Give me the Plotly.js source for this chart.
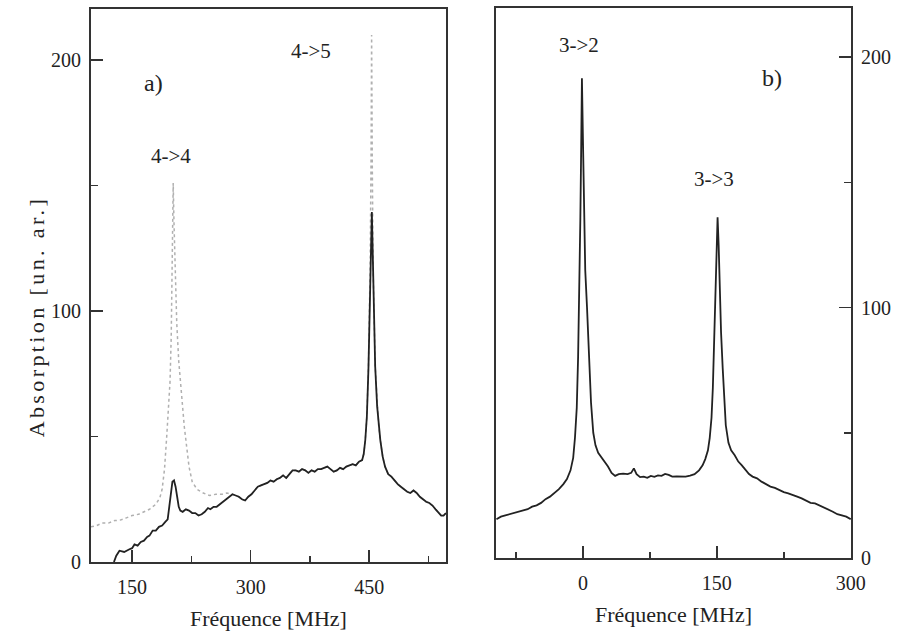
<!DOCTYPE html>
<html>
<head>
<meta charset="utf-8">
<script src="https://cdn.plot.ly/plotly-3.0.1.min.js"></script>
<style>
html, body { margin: 0; padding: 0; background: #fff; }
#chart { width: 898px; height: 634px; }
g.annotation[data-index="0"] text { letter-spacing: 3.4px; }
</style>
</head>
<body>
<div id="chart"></div>
<script>
// Panel a) : solid curve
const freqA = [127,130,134,140,146,150,153,157,161,165,169,172,176,180,184,188,192,195,197,199,201,203,205,207,209,211,214,218,222,226,230,234,238,242,246,249,253,257,261,265,269,273,277,281,285,289,293,297,301,305,309,313,317,321,325,329,333,337,341,345,349,353,357,361,365,369,373,377,381,385,389,393,397,401,405,409,413,417,421,425,429,433,437,441,443,445,447,449,451,452.5,453.3,454.3,455.5,457.5,460,462,464,467,470,474,478,482,486,490,494,498,502,506,510,514,518,522,526,530,534,538,541,544,547];
const absA = [0,2.5,4.5,4,5,5.5,7,6.5,8,8.5,10,10.5,12.5,12.5,14,14.5,16,17,22,28,32,32.5,30,26,22,20.5,20,21,20.5,19.5,19.5,18.5,19,20,21.5,21,22,22,23,24,25,26,27,26.5,26,25,24.5,26,27,28.5,30,30.5,31,31.5,32.5,32,33,33.5,34.5,33.5,35,36.5,36.5,36,37,36.5,35.5,36.5,36,37,37,37.5,38,37,36,36.5,37.5,37,38,38.5,39,38.5,40,40.6,43,48.6,58,77,104,128,139.5,125,104,78,62,54,48.6,42,38,35,34,32.5,31,30,29,28,27.5,28.5,27.5,26,25,24,23.5,22.5,21,19.5,18.5,18.5,19.5];

// Panel a) : dotted curve
const freqA2 = [98,105,112,120,128,135,142,150,158,165,172,180,185,188,191,194,196,198,199.5,200.5,201.3,202,203,204.5,206.5,209,211,213,216,219,222,226,232,240,248,256,264,270,277,281,285,289,293,297,301,305,309,313,317,321,325,329,333,337,341,345,349,353,357,361,365,369,373,377,381,385,389,393,397,401,405,409,413,417,421,425,429,433,437,441,443,445,447,449,451,452.3,453,453.8,455,457.5,460,462,464,467,470,474,478,482,486,490,494,498,502,506,510,514,518,522,526,530,534,538,541,544,547];
const absA2 = [14,14.5,15.5,15.5,16.5,16.7,17.5,18.5,19,20,21,23,25.5,29,37,51,60,72,90,110,130,151,135,115,95,80,72,65,54,46,38,32,29,27.5,26.5,27,27,27.5,27,26.5,26,25,24.5,26,27,28.5,30,30.5,31,31.5,32.5,32,33,33.5,34.5,33.5,35,36.5,36.5,36,37,36.5,35.5,36.5,36,37,37,37.5,38,37,36,36.5,37.5,37,38,38.5,39,38.5,40,40.6,43,48.6,58,78,115,160,210,160,115,78,62,54,48.6,42,38,35,34,32.5,31,30,29,28,27.5,28.5,27.5,26,25,24,23.5,22.5,21,19.5,18.5,18.5,19.5];

// Panel b)
const freqB = [-97,-92,-87,-82,-77,-72,-67,-62,-57,-52,-47,-42,-37,-32,-27,-22,-18,-14,-11,-9,-7,-5.5,-4.2,-3,-2,-1.2,-0.2,1,2.5,4.5,6.5,9,11.5,14,17,20,24,28,32,36,40,45,50,54,57,60,64,68,72,76,80,84,88,92,96,100,105,110,115,120,125,130,134,137,140,142,144,145.5,147,148.3,149.5,150.8,152,153.3,154.7,156.5,158,160,163,166,170,174,178,182,186,190,195,200,205,210,215,220,225,230,235,240,245,250,255,260,265,270,275,280,285,290,295,300];
const absB = [15.5,16.5,17,17.5,18,18.5,19,19.5,20.5,21,22,23.5,24.5,26,27.5,29.5,31.5,35,40,48,60,80,105,135,165,191.5,170,140,115,100,80,62,50,45,42,40.5,38.5,36.5,34,32.8,33.5,33.7,33.5,34,35.8,33.5,32.3,32.5,32,32.8,32.4,33,32.8,33.6,33.2,32.5,32.6,32.4,32.5,32.9,33.5,35,37,39.5,43,48,56,68,88,105,125,136,125,105,90,76,64,53,46,43,41,38.5,37,35,33.5,32.5,31.8,30.5,29.5,28.5,28,27,26.3,25.8,25,24.5,23.8,22.8,22,21.8,21,20.2,19.5,18.5,17.5,17,16.5,15.5];

const labelText = ['Absorption [un. ar.]','a)','4->4','4->5','3->2','b)','3->3'];
const xTitle = 'Fréquence [MHz]';

const FONT = 'Liberation Serif';
const INK = '#222';

const traces = [
  {x: freqA2, y: absA2, xaxis: 'x', yaxis: 'y', mode: 'lines', name: 'dotted',
   line: {color: '#b0b0b0', width: 1.5, dash: 'dot'}, hoverinfo: 'skip'},
  {x: freqA, y: absA, xaxis: 'x', yaxis: 'y', mode: 'lines', name: 'a',
   line: {color: INK, width: 1.8}},
  {x: freqB, y: absB, xaxis: 'x2', yaxis: 'y2', mode: 'lines', name: 'b',
   line: {color: INK, width: 1.8}}
];

function xax(domain, range, anchor) {
  return {
    domain: domain, range: range, anchor: anchor,
    tick0: 0, dtick: 150, ticks: 'inside', ticklen: 12, tickwidth: 1.5, tickcolor: '#333',
    minor: {dtick: 75, tick0: 0, ticks: 'inside', ticklen: 6, tickwidth: 1.5, tickcolor: '#333', showgrid: false},
    showline: true, mirror: true, linewidth: 2, linecolor: '#333',
    showgrid: false, zeroline: false,
    tickfont: {family: FONT, size: 20, color: INK},
    ticklabelstandoff: 6,
    title: {text: xTitle, font: {family: FONT, size: 22, color: INK}, standoff: 14}
  };
}
function yax(domain, range, anchor, side) {
  return {
    domain: domain, range: range, anchor: anchor, side: side,
    tick0: 0, dtick: 100, ticks: 'inside', ticklen: 12, tickwidth: 1.5, tickcolor: '#333',
    minor: {dtick: 50, tick0: 0, ticks: 'inside', ticklen: 7, tickwidth: 1.5, tickcolor: '#333', showgrid: false},
    showline: true, mirror: true, linewidth: 2, linecolor: '#333',
    showgrid: false, zeroline: false,
    tickfont: {family: FONT, size: 20, color: INK},
    ticklabelstandoff: 4
  };
}

const layout = {
  width: 898, height: 634,
  margin: {l: 91, r: 47, t: 8, b: 72},
  paper_bgcolor: '#fff', plot_bgcolor: '#fff',
  font: {family: FONT, color: INK},
  showlegend: false,
  xaxis: xax([0, 0.467], [98, 547], 'y'),
  yaxis: yax([0, 0.998], [0, 220.3], 'x', 'left'),
  xaxis2: xax([0.533, 1], [-97.4, 300.3], 'y2'),
  yaxis2: yax([0.0072, 1], [0, 219.6], 'x2', 'right'),
  annotations: [
    {text: labelText[0], xref: 'paper', yref: 'paper', x: -0.091, y: 0.444, textangle: -90,
     showarrow: false, font: {family: FONT, size: 22, color: INK}},
    {text: labelText[1], xref: 'x', yref: 'y', x: 176.5, y: 190.8, showarrow: false, font: {family: FONT, size: 24, color: INK}},
    {text: labelText[2], xref: 'x', yref: 'y', x: 199, y: 161.8, showarrow: false, font: {family: FONT, size: 21, color: INK}},
    {text: labelText[3], xref: 'x', yref: 'y', x: 376.5, y: 203.6, showarrow: false, font: {family: FONT, size: 21, color: INK}},
    {text: labelText[4], xref: 'x2', yref: 'y2', x: -4.5, y: 205, showarrow: false, font: {family: FONT, size: 21, color: INK}},
    {text: labelText[5], xref: 'x2', yref: 'y2', x: 211.7, y: 191.6, showarrow: false, font: {family: FONT, size: 24, color: INK}},
    {text: labelText[6], xref: 'x2', yref: 'y2', x: 146.7, y: 151.2, showarrow: false, font: {family: FONT, size: 21, color: INK}}
  ]
};

Plotly.newPlot('chart', traces, layout, {displayModeBar: false, staticPlot: true});
</script>
</body>
</html>
